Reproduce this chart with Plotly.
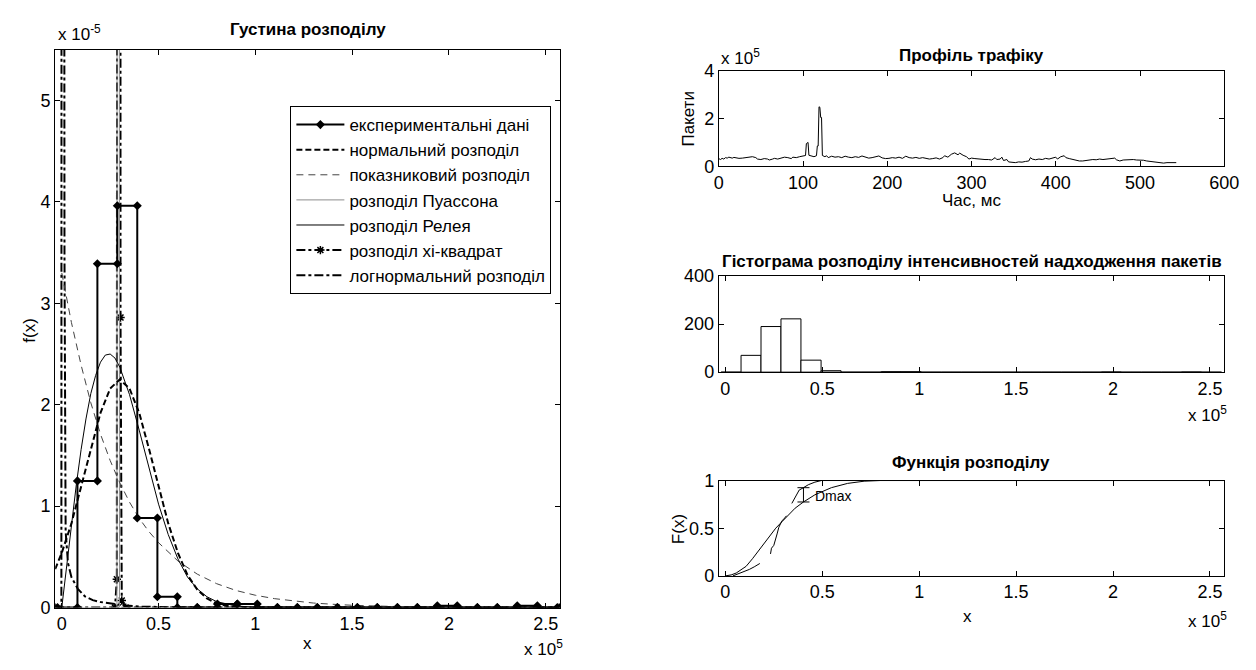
import plotly.graph_objects as go

W, H = 1256, 670
FONT = "'Liberation Sans', Arial, sans-serif"

# ---------------- density panel (x in 1e5 units, f(x) in 1e-5 units) -------------
hist_edges = [-0.022, 0.081, 0.184, 0.287, 0.390, 0.494, 0.597, 0.700, 0.804, 0.907,
              1.010, 1.114, 1.217, 1.320, 1.424, 1.527, 1.630, 1.734, 1.837, 1.940,
              2.043, 2.147, 2.250, 2.353, 2.457, 2.560]
hist_counts = [0, 70, 190, 222, 50, 6, 0, 0, 2, 2,
               0, 0, 0, 0, 0, 0, 0, 0, 0, 1,
               0, 0, 0, 1, 0]

norm_x = [-0.034, 0.0, 0.05, 0.1, 0.15, 0.2, 0.25, 0.3, 0.35, 0.4, 0.45, 0.5, 0.55,
          0.6, 0.65, 0.7, 0.75, 0.8, 0.85, 0.9, 1.0, 2.57]
norm_y = [0.38, 0.54, 0.83, 1.19, 1.57, 1.92, 2.16, 2.25, 2.16, 1.92, 1.57, 1.19, 0.83,
          0.54, 0.32, 0.177, 0.090, 0.042, 0.018, 0.007, 0.0, 0.0]

expo_x = [0.0, 0.05, 0.1, 0.15, 0.2, 0.25, 0.3, 0.35, 0.4, 0.45, 0.5, 0.6, 0.7, 0.8,
          0.9, 1.0, 1.1, 1.2, 1.3, 1.4, 1.5, 1.7, 2.0, 2.3, 2.57]
expo_y = [3.30, 2.81, 2.39, 2.02, 1.71, 1.45, 1.23, 1.04, 0.88, 0.75, 0.64, 0.46, 0.33,
          0.236, 0.169, 0.122, 0.088, 0.063, 0.045, 0.033, 0.023, 0.012, 0.0045, 0.0017, 0.0007]

poisson_x = [-0.034, 0.285, 0.292, 0.298, 2.57]
poisson_y = [0.0, 0.0, 60.0, 0.0, 0.0]

rayl_x = [0.0, 0.025, 0.05, 0.075, 0.1, 0.125, 0.15, 0.175, 0.2, 0.225, 0.25, 0.275,
          0.3, 0.35, 0.4, 0.45, 0.5, 0.55, 0.6, 0.65, 0.7, 0.75, 0.8, 0.9, 1.0, 2.57]
rayl_y = [0.0, 0.42, 0.83, 1.21, 1.56, 1.86, 2.11, 2.29, 2.42, 2.49, 2.50, 2.46,
          2.37, 2.10, 1.75, 1.37, 1.02, 0.72, 0.48, 0.30, 0.185, 0.107, 0.059, 0.016, 0.0035, 0.0]

chi2_x = [-0.034, 0.275, 0.2845, 0.29, 0.2955, 0.3015, 0.3035, 0.31, 0.33, 2.57]
chi2_y = [0.0, 0.0, 0.28, 30.0, 60.0, 30.0, 2.86, 0.07, 0.0, 0.0]

logn_x = [-0.034, -0.002, 0.002, 0.010, 0.014, 0.02, 0.032, 0.05, 0.083, 0.12, 0.16, 0.2,
          0.25, 0.29, 0.33, 0.4, 0.6, 1.0, 2.57]
logn_y = [0.0, 0.0, 40.0, 40.0, 3.5, 0.75, 0.44, 0.30, 0.185, 0.11, 0.074, 0.055,
          0.04, 0.03, 0.02, 0.01, 0.003, 0.0, 0.0]

# ---------------- traffic profile (time in ms, packets in 1e5 units) --------------
t_ms = [0, 2, 4, 6, 8, 10, 12, 14, 16, 18,
        20, 24, 28, 32, 36, 40, 44, 46, 50, 54,
        58, 60, 64, 66, 70, 74, 78, 82, 86, 88,
        92, 96, 100, 103, 104, 105, 106, 107, 110, 113,
        116, 117, 118, 119, 120, 121, 122, 123, 126, 128,
        130, 134, 138, 142, 146, 150, 154, 158, 162, 166,
        170, 174, 178, 182, 186, 190, 194, 198, 202, 206,
        210, 214, 218, 222, 226, 230, 234, 238, 242, 246,
        250, 254, 258, 262, 266, 268, 272, 276, 280, 284,
        286, 290, 294, 297, 300, 304, 308, 312, 316, 320,
        324, 328, 330, 334, 336, 338, 342, 344, 348, 352,
        356, 360, 364, 368, 370, 372, 376, 380, 384, 388,
        392, 396, 400, 402, 406, 410, 412, 416, 420, 424,
        428, 432, 436, 440, 444, 448, 452, 456, 460, 464,
        468, 470, 472, 476, 480, 484, 488, 492, 496, 500,
        504, 508, 512, 516, 520, 524, 528, 532, 536, 540,
        543]
packets = [0.32, 0.28, 0.33, 0.30, 0.36, 0.34, 0.38, 0.36, 0.34, 0.37,
           0.35, 0.33, 0.34, 0.36, 0.38, 0.40, 0.36, 0.30, 0.28, 0.32,
           0.30, 0.26, 0.30, 0.33, 0.30, 0.34, 0.38, 0.36, 0.32, 0.38,
           0.36, 0.40, 0.42, 0.45, 0.95, 1.00, 1.00, 0.46, 0.42, 0.40,
           0.44, 0.85, 0.85, 2.50, 2.48, 2.05, 2.05, 0.45, 0.40, 0.44,
           0.36, 0.42, 0.38, 0.40, 0.36, 0.42, 0.38, 0.36, 0.40, 0.37,
           0.43, 0.40, 0.34, 0.36, 0.38, 0.43, 0.35, 0.32, 0.33, 0.36,
           0.34, 0.38, 0.33, 0.42, 0.36, 0.34, 0.37, 0.33, 0.36, 0.34,
           0.30, 0.32, 0.35, 0.30, 0.36, 0.44, 0.38, 0.50, 0.56, 0.48,
           0.55, 0.46, 0.40, 0.30, 0.34, 0.32, 0.30, 0.31, 0.28, 0.28,
           0.26, 0.36, 0.28, 0.30, 0.38, 0.24, 0.28, 0.18, 0.15, 0.15,
           0.18, 0.17, 0.20, 0.22, 0.36, 0.30, 0.27, 0.30, 0.28, 0.33,
           0.30, 0.34, 0.38, 0.30, 0.40, 0.44, 0.36, 0.32, 0.28, 0.26,
           0.22, 0.22, 0.25, 0.26, 0.28, 0.27, 0.30, 0.28, 0.30, 0.29,
           0.33, 0.34, 0.27, 0.22, 0.26, 0.27, 0.26, 0.28, 0.26, 0.27,
           0.25, 0.22, 0.20, 0.18, 0.15, 0.12, 0.13, 0.15, 0.14, 0.16,
           0.15]

# ---------------- distribution functions (x in 1e5 units) -------------------------
cdf_fit_x = [0.0, 0.03, 0.056, 0.08, 0.107, 0.14, 0.174, 0.2, 0.225, 0.26, 0.293,
             0.33, 0.36, 0.403, 0.462, 0.547, 0.631, 0.716, 0.8, 2.57]
cdf_fit_y = [0.0, 0.01, 0.03, 0.06, 0.10, 0.18, 0.27, 0.34, 0.41, 0.50, 0.57,
             0.65, 0.71, 0.775, 0.85, 0.925, 0.97, 0.993, 1.0, 1.0]
cdf_emp_x = [0.039, 0.081, 0.107, 0.124, 0.149, 0.178, None,
             0.233, 0.238, 0.250, 0.259, 0.267, 0.276, 0.284, 0.293, 0.308, 0.315, None,
             0.343, 0.357, 0.369, 0.381, 0.403, 0.428, 0.462, 0.496, 2.57]
cdf_emp_y = [0.0, 0.034, 0.05, 0.068, 0.095, 0.13, None,
             0.23, 0.29, 0.32, 0.40, 0.44, 0.51, 0.55, 0.58, 0.61, 0.63, None,
             0.76, 0.81, 0.86, 0.90, 0.925, 0.956, 0.983, 1.0, 1.0]
dmax_x = 0.403
dmax_lo, dmax_hi = 0.775, 0.925

x_ticks = [0, 0.5, 1, 1.5, 2, 2.5]
x_ticktext = ["0", "0.5", "1", "1.5", "2", "2.5"]


def px(x):
    return x / W


def py(y):
    return 1 - y / H


fig = go.Figure()

# experimental histogram density drawn as stairs with vertex markers
n_total = sum(hist_counts)
exp_x, exp_y = [], []
for k, c in enumerate(hist_counts):
    width = hist_edges[k + 1] - hist_edges[k]
    dens = c / (n_total * width)
    exp_x += [hist_edges[k], hist_edges[k + 1]]
    exp_y += [dens, dens]

fig.add_trace(go.Scatter(x=logn_x, y=logn_y, mode="lines", name="логнормальний розподіл",
                         line=dict(color="black", width=2, dash="dashdot"), legendrank=7))
fig.add_trace(go.Scatter(x=chi2_x, y=chi2_y, mode="lines+markers", name="розподіл хі-квадрат",
                         line=dict(color="black", width=2, dash="dashdot"),
                         marker=dict(symbol="asterisk-open", size=7,
                                     line=dict(color="black", width=1.5)), legendrank=6))
fig.add_trace(go.Scatter(x=poisson_x, y=poisson_y, mode="lines", name="розподіл Пуассона",
                         line=dict(color="#8c8c8c", width=1), legendrank=4))
fig.add_trace(go.Scatter(x=expo_x, y=expo_y, mode="lines", name="показниковий розподіл",
                         line=dict(color="#444444", width=1, dash="7px,5px"), legendrank=3))
fig.add_trace(go.Scatter(x=rayl_x, y=rayl_y, mode="lines", name="розподіл Релея",
                         line=dict(color="black", width=1), legendrank=5))
fig.add_trace(go.Scatter(x=norm_x, y=norm_y, mode="lines", name="нормальний розподіл",
                         line=dict(color="black", width=2, dash="6px,3px"), legendrank=2))
fig.add_trace(go.Scatter(x=exp_x, y=exp_y, mode="lines+markers", name="експериментальні дані",
                         line=dict(color="black", width=2),
                         marker=dict(symbol="diamond", size=7, color="black"), legendrank=1))

# traffic profile
fig.add_trace(go.Scatter(x=t_ms, y=packets, mode="lines", xaxis="x2", yaxis="y2",
                         line=dict(color="black", width=1), showlegend=False))

# histogram of arrival intensities
centers = [(hist_edges[k] + hist_edges[k + 1]) / 2 for k in range(len(hist_counts))]
widths = [hist_edges[k + 1] - hist_edges[k] for k in range(len(hist_counts))]
fig.add_trace(go.Bar(x=centers, y=hist_counts, width=widths, xaxis="x3", yaxis="y3",
                     marker=dict(color="white", line=dict(color="black", width=1)),
                     showlegend=False))

# distribution functions and Kolmogorov distance
fig.add_trace(go.Scatter(x=cdf_fit_x, y=cdf_fit_y, mode="lines", xaxis="x4", yaxis="y4",
                         line=dict(color="black", width=1), showlegend=False))
fig.add_trace(go.Scatter(x=cdf_emp_x, y=cdf_emp_y, mode="lines", xaxis="x4", yaxis="y4",
                         line=dict(color="black", width=1), showlegend=False,
                         connectgaps=False))
fig.add_trace(go.Scatter(x=[dmax_x], y=[(dmax_lo + dmax_hi) / 2], mode="markers",
                         xaxis="x4", yaxis="y4", marker=dict(size=1, color="rgba(0,0,0,0)"),
                         error_y=dict(type="data", array=[(dmax_hi - dmax_lo) / 2],
                                      color="black", thickness=1, width=6),
                         showlegend=False))


def frame(**kw):
    d = dict(showline=True, linecolor="black", linewidth=1, mirror="allticks",
             ticks="inside", ticklen=5, tickcolor="black", tickwidth=1,
             showgrid=False, zeroline=False, tickfont=dict(size=18, color="black"))
    d.update(kw)
    return d


right_dom = [px(725.3), px(1239)]
fig.update_layout(
    width=W, height=H, margin=dict(l=0, r=0, t=0, b=0),
    paper_bgcolor="white", plot_bgcolor="white",
    font=dict(family=FONT, size=17, color="black"),
    barmode="overlay",
    xaxis=frame(domain=[px(51), px(564)], range=[-0.034, 2.574], anchor="y",
                tickvals=x_ticks, ticktext=x_ticktext),
    yaxis=frame(domain=[py(616), py(41)], range=[0, 5.5], anchor="x",
                tickvals=[0, 1, 2, 3, 4, 5]),
    xaxis2=frame(domain=right_dom, range=[0, 600], anchor="y2",
                 tickvals=[0, 100, 200, 300, 400, 500, 600]),
    yaxis2=frame(domain=[py(161), py(63)], range=[0, 4], anchor="x2", tickvals=[0, 2, 4]),
    xaxis3=frame(domain=right_dom, range=[-0.034, 2.574], anchor="y3",
                 tickvals=x_ticks, ticktext=x_ticktext),
    yaxis3=frame(domain=[py(373.3), py(274.3)], range=[0, 400], anchor="x3",
                 tickvals=[0, 200, 400]),
    xaxis4=frame(domain=right_dom, range=[-0.034, 2.574], anchor="y4",
                 tickvals=x_ticks, ticktext=x_ticktext),
    yaxis4=frame(domain=[py(583.3), py(485)], range=[0, 1], anchor="x4",
                 tickvals=[0, 0.5, 1], ticktext=["0", "0.5", "1"]),
    legend=dict(x=px(290), y=py(99), xanchor="left", yanchor="top",
                bgcolor="white", bordercolor="black", borderwidth=1,
                font=dict(size=17, color="black"), tracegroupgap=0, itemwidth=48),
)


def note(text, x, y, size=17, angle=0, xanchor="center", yanchor="middle"):
    fig.add_annotation(text=text, x=px(x), y=py(y), xref="paper", yref="paper",
                       showarrow=False, textangle=angle, xanchor=xanchor, yanchor=yanchor,
                       font=dict(size=size, color="black", family=FONT))


note("<b>Густина розподілу</b>", 307.5, 20)
note("<b>Профіль трафіку</b>", 982, 47)
note("<b>Гістограма розподілу інтенсивностей надходження пакетів</b>", 983, 259)
note("<b>Функція розподілу</b>", 982, 466)
note("f(x)", 25, 330, angle=-90)
note("x", 307, 653)
note("Пакети", 695, 112, angle=-90)
note("Час, мс", 982, 196)
note("F(x)", 684, 535, angle=-90)
note("x", 978, 625)
note("x 10<sup>-5</sup>", 52, 24, xanchor="left")
note("x 10<sup>5</sup>", 525, 658, xanchor="left")
note("x 10<sup>5</sup>", 726, 48, xanchor="left")
note("x 10<sup>5</sup>", 1200, 416, xanchor="left")
note("x 10<sup>5</sup>", 1200, 629, xanchor="left")

fig.add_annotation(text="Dmax", x=0.45, y=0.84, xref="x4", yref="y4", showarrow=False,
                   xanchor="left", yanchor="middle", font=dict(size=14, color="black"))

fig.write_html("out.html")
